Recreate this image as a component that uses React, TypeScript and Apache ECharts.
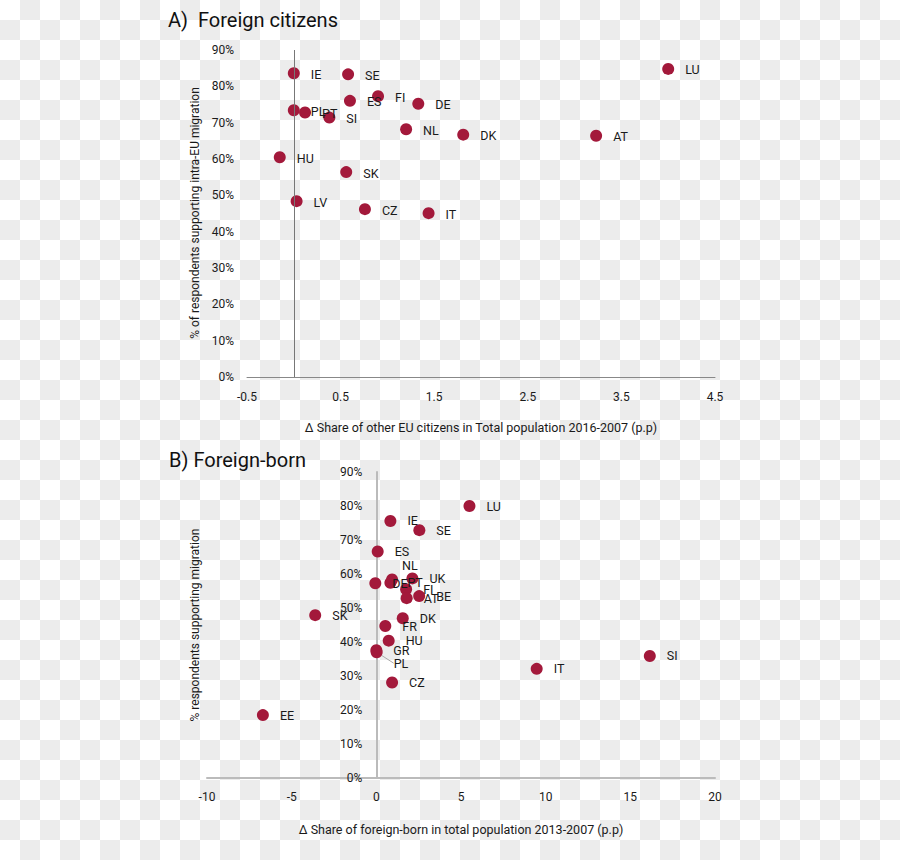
import React, { useEffect, useRef } from "react";
import * as echarts from "echarts";

// Panel A: foreign citizens
const codesA = ["IE", "SE", "FI", "ES", "DE", "PL", "PT", "SI", "NL", "DK", "AT", "LU", "HU", "SK", "LV", "CZ", "IT"];
const xA = [0.0, 0.58, 0.9, 0.6, 1.33, 0.0, 0.12, 0.38, 1.2, 1.81, 3.23, 4.0, -0.15, 0.56, 0.03, 0.76, 1.44];
const yA = [83.6, 83.3, 77.3, 76.0, 75.2, 73.4, 72.8, 71.4, 68.2, 66.7, 66.4, 84.8, 60.5, 56.4, 48.4, 46.2, 45.1];

// Panel B: foreign-born
const codesB = ["LU", "IE", "SE", "ES", "NL", "DE", "PT", "UK", "FI", "AT", "BE", "DK", "FR", "HU", "GR", "PL", "CZ", "SK", "IT", "SI", "EE"];
const xB = [5.5, 0.83, 2.54, 0.08, 0.93, -0.06, 0.83, 2.13, 1.76, 1.79, 2.53, 1.56, 0.53, 0.73, 0.0, 0.02, 0.93, -3.61, 9.47, 16.15, -6.7];
const yB = [80.0, 75.6, 72.9, 66.6, 58.4, 57.3, 57.4, 58.7, 55.5, 52.9, 53.5, 47.0, 44.7, 40.4, 37.6, 37.0, 28.1, 47.9, 32.1, 35.9, 18.5];

// Axis settings
const xTicksA = { min: -0.5, max: 4.5, interval: 1 };
const xTicksB = { min: -10, max: 20, interval: 5 };
const yTicks = { min: 0, max: 90, interval: 10 };

const titleA = "A)  Foreign citizens";
const titleB = "B) Foreign-born";
const xNameA = "Δ Share of other EU citizens in Total population 2016-2007 (p.p)";
const xNameB = "Δ Share of foreign-born in total population 2013-2007 (p.p)";
const yNameA = "% of respondents supporting intra-EU migration";
const yNameB = "% respondents supporting migration";

// label nudges (styling only)
const labelNudgeB: Record<string, [number, number]> = { NL: [-7, -14], PL: [0, 11] };

const FONT = "Roboto, 'Noto Sans', sans-serif";
const DOT = "#a3193b";
const TXT = "#1a1a1a";

const GRID_B_LEFT = 207;
const GRID_B_WIDTH = 508;

export default function App() {
  const ref = useRef<HTMLDivElement>(null);
  useEffect(() => {
    if (!ref.current) return;
    const chart = echarts.init(ref.current, null, { renderer: "svg" });
    const dataA = codesA.map((c, i) => ({ name: c, value: [xA[i], yA[i]] }));
    const dataB = codesB.map((c, i) => ({
      name: c,
      value: [xB[i], yB[i]],
      labelLine: { show: c === "PL", lineStyle: { color: "#aaa", width: 1 } },
    }));
    // place panel B's y axis at x = 0
    const zeroOffsetB = -((0 - xTicksB.min) / (xTicksB.max - xTicksB.min)) * GRID_B_WIDTH;
    const axisLabel = { fontFamily: FONT, fontSize: 12, color: TXT };
    const pointLabel = {
      show: true,
      position: "right",
      distance: 11,
      formatter: "{b}",
      fontFamily: FONT,
      fontSize: 12.5,
      color: TXT,
      offset: [0, 1],
    };
    const option: any = {
      animation: false,
      textStyle: { fontFamily: FONT },
      grid: [
        { left: 247, right: 185, top: 50, height: 327 },
        { left: GRID_B_LEFT, width: GRID_B_WIDTH, top: 472, height: 306 },
      ],
      xAxis: [
        {
          gridIndex: 0,
          type: "value",
          ...xTicksA,
          splitLine: { show: false },
          axisTick: { show: false },
          axisLine: { lineStyle: { color: "#888", width: 1 } },
          axisLabel: { ...axisLabel, margin: 14 },
          name: xNameA,
          nameLocation: "middle",
          nameGap: 44,
          nameTextStyle: { fontFamily: FONT, fontSize: 12.5, color: TXT },
        },
        {
          gridIndex: 1,
          type: "value",
          ...xTicksB,
          splitLine: { show: false },
          axisTick: { show: false },
          axisLine: { lineStyle: { color: "#bbb", width: 2 } },
          axisLabel: { ...axisLabel, margin: 13 },
          name: xNameB,
          nameLocation: "middle",
          nameGap: 45,
          nameTextStyle: { fontFamily: FONT, fontSize: 12.5, color: TXT },
        },
      ],
      yAxis: [
        {
          gridIndex: 0,
          type: "value",
          ...yTicks,
          splitLine: { show: false },
          axisTick: { show: false },
          axisLine: { show: false, onZero: false },
          axisLabel: { ...axisLabel, margin: 13, formatter: "{value}%" },
        },
        {
          gridIndex: 1,
          type: "value",
          ...yTicks,
          offset: zeroOffsetB,
          splitLine: { show: false },
          axisTick: { show: false },
          axisLine: { show: true, onZero: false, lineStyle: { color: "#bbb", width: 2 } },
          axisLabel: { ...axisLabel, margin: 14, formatter: "{value}%" },
        },
      ],
      series: [
        {
          type: "scatter",
          xAxisIndex: 0,
          yAxisIndex: 0,
          data: dataA,
          symbolSize: 12,
          itemStyle: { color: DOT, opacity: 1 },
          label: pointLabel,
          markLine: {
            silent: true,
            symbol: "none",
            label: { show: false },
            lineStyle: { color: "#777", width: 1, type: "solid" },
            data: [{ xAxis: 0 }],
          },
        },
        {
          type: "scatter",
          xAxisIndex: 1,
          yAxisIndex: 1,
          data: dataB,
          symbolSize: 12,
          itemStyle: { color: DOT, opacity: 1 },
          label: pointLabel,
          labelLayout: (p: any) => {
            const n = labelNudgeB[codesB[p.dataIndex]];
            return n ? { dx: n[0], dy: n[1] } : {};
          },
        },
      ],
      graphic: [
        {
          type: "text",
          left: 168,
          top: 10,
          style: { text: titleA, fontFamily: FONT, fontSize: 20, fill: "#111" },
        },
        {
          type: "text",
          left: 169,
          top: 450,
          style: { text: titleB, fontFamily: FONT, fontSize: 20, fill: "#111" },
        },
        {
          type: "text",
          x: 195,
          y: 213,
          rotation: Math.PI / 2,
          style: { text: yNameA, fontFamily: FONT, fontSize: 12, fill: TXT, align: "center", verticalAlign: "middle" },
        },
        {
          type: "text",
          x: 195,
          y: 625,
          rotation: Math.PI / 2,
          style: { text: yNameB, fontFamily: FONT, fontSize: 12, fill: TXT, align: "center", verticalAlign: "middle" },
        },
      ],
    };
    chart.setOption(option);
    return () => chart.dispose();
  }, []);
  return (
    <div
      style={{
        position: "absolute",
        left: 0,
        top: 0,
        width: 900,
        height: 860,
        backgroundImage: "repeating-conic-gradient(#ececec 0% 25%, #ffffff 0% 50%)",
        backgroundSize: "40px 40px",
      }}
    >
      <div ref={ref} style={{ width: 900, height: 860 }} />
    </div>
  );
}
